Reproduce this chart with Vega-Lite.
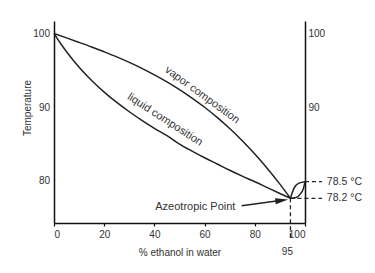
{
  "$schema": "https://vega.github.io/schema/vega-lite/v6.json",
  "autosize": "none",
  "width": 251,
  "height": 202,
  "padding": {"left": 54, "top": 21, "right": 70, "bottom": 50},
  "background": "white",
  "config": {"view": {"stroke": null}, "font": "Liberation Sans", "text": {"font": "Liberation Sans", "color": "#333"}},
  "datasets": {
    "curves": [
      {"series": "vapor", "x": 0, "y": 100},
      {"series": "vapor", "x": 5, "y": 99.41},
      {"series": "vapor", "x": 10, "y": 98.8},
      {"series": "vapor", "x": 15, "y": 98.18},
      {"series": "vapor", "x": 20, "y": 97.52},
      {"series": "vapor", "x": 25, "y": 96.83},
      {"series": "vapor", "x": 30, "y": 96.08},
      {"series": "vapor", "x": 35, "y": 95.28},
      {"series": "vapor", "x": 40, "y": 94.4},
      {"series": "vapor", "x": 45, "y": 93.45},
      {"series": "vapor", "x": 50, "y": 92.4},
      {"series": "vapor", "x": 55, "y": 91.25},
      {"series": "vapor", "x": 60, "y": 90.0},
      {"series": "vapor", "x": 65, "y": 88.62},
      {"series": "vapor", "x": 70, "y": 87.11},
      {"series": "vapor", "x": 75, "y": 85.46},
      {"series": "vapor", "x": 80, "y": 83.66},
      {"series": "vapor", "x": 85, "y": 81.7},
      {"series": "vapor", "x": 90, "y": 79.57},
      {"series": "vapor", "x": 94.2, "y": 77.65},
      {"series": "vapor loop", "x": 94.2, "y": 77.65},
      {"series": "vapor loop", "x": 95.0, "y": 78.5},
      {"series": "vapor loop", "x": 96.0, "y": 79.25},
      {"series": "vapor loop", "x": 97.6, "y": 79.7},
      {"series": "vapor loop", "x": 100, "y": 79.9},
      {"series": "liquid", "x": 0, "y": 100},
      {"series": "liquid", "x": 2.5, "y": 98.71},
      {"series": "liquid", "x": 5, "y": 97.53},
      {"series": "liquid", "x": 7.5, "y": 96.45},
      {"series": "liquid", "x": 10, "y": 95.44},
      {"series": "liquid", "x": 15, "y": 93.64},
      {"series": "liquid", "x": 20, "y": 92.06},
      {"series": "liquid", "x": 25, "y": 90.65},
      {"series": "liquid", "x": 30, "y": 89.39},
      {"series": "liquid", "x": 35, "y": 88.23},
      {"series": "liquid", "x": 40, "y": 87.15},
      {"series": "liquid", "x": 45, "y": 86.14},
      {"series": "liquid", "x": 50, "y": 85.0},
      {"series": "liquid", "x": 55, "y": 84.05},
      {"series": "liquid", "x": 60, "y": 83.15},
      {"series": "liquid", "x": 65, "y": 82.3},
      {"series": "liquid", "x": 70, "y": 81.45},
      {"series": "liquid", "x": 75, "y": 80.65},
      {"series": "liquid", "x": 80, "y": 79.9},
      {"series": "liquid", "x": 85, "y": 79.1},
      {"series": "liquid", "x": 90, "y": 78.3},
      {"series": "liquid", "x": 94.2, "y": 77.65},
      {"series": "liquid loop", "x": 94.2, "y": 77.65},
      {"series": "liquid loop", "x": 96.4, "y": 77.75},
      {"series": "liquid loop", "x": 98.4, "y": 78.35},
      {"series": "liquid loop", "x": 99.4, "y": 79.0},
      {"series": "liquid loop", "x": 100, "y": 79.9}
    ],
    "dashes": [
      {"x": 100, "y": 79.9, "x2": 106.8, "y2": 79.9},
      {"x": 94.2, "y": 77.65, "x2": 106.8, "y2": 77.65},
      {"x": 94.2, "y": 77.65, "x2": 94.2, "y2": 72.0}
    ],
    "levels": [
      {"text": "78.5 °C", "x": 108.7, "y": 79.9},
      {"text": "78.2 °C", "x": 108.7, "y": 77.65}
    ],
    "tick95": [{"text": "95", "x": 93.0, "y": 70.3}],
    "azeo": [{"text": "Azeotropic Point", "x": 56.3, "y": 76.43}],
    "vaporLabel": [{"text": "vapor composition", "x": 59.0, "y": 91.65}],
    "liquidLabel": [{"text": "liquid composition", "x": 44.2, "y": 88.3}],
    "arrow": [{"x": 74.8, "y": 76.64, "x2": 90.8, "y2": 77.37}],
    "arrowhead": [{"x": 90.76, "y": 77.37}]
  },
  "layer": [
    {
      "data": {"name": "curves"},
      "mark": {"type": "line", "interpolate": "monotone", "color": "#222", "strokeWidth": 1.5},
      "encoding": {
        "x": {"field": "x", "type": "quantitative", "scale": {"domain": [0, 100], "nice": false, "zero": false},
          "axis": {"values": [0, 20, 40, 60, 80, 100], "grid": false, "domainColor": "#111", "domainWidth": 1.5, "tickColor": "#111", "tickSize": 3, "tickWidth": 1.2, "labelFontSize": 10, "labelColor": "#333", "labelPadding": 3.5, "labelFont": "Liberation Sans", "title": "% ethanol in water", "titleFont": "Liberation Sans", "titleFontSize": 10, "titleFontWeight": "normal", "titleColor": "#333", "titlePadding": 8}},
        "y": {"field": "y", "type": "quantitative", "scale": {"domain": [74.3, 101.7], "nice": false, "zero": false},
          "axis": {"values": [80, 90, 100], "grid": false, "ticks": false, "domainColor": "#111", "domainWidth": 1.5, "labelPadding": 4.5, "labelFontSize": 10, "labelColor": "#333", "labelFont": "Liberation Sans", "title": "Temperature", "titleFont": "Liberation Sans", "titleFontSize": 10, "titleFontWeight": "normal", "titleColor": "#333", "titleX": -27, "titleY": 86.5, "titleAngle": -90, "titleBaseline": "middle", "titleAlign": "center"}},
        "detail": {"field": "series"}
      }
    },
    {
      "data": {"name": "dashes"},
      "mark": {"type": "rule", "color": "#222", "strokeWidth": 1.3, "strokeDash": [4, 3]},
      "encoding": {
        "x": {"field": "x", "type": "quantitative", "scale": {"domain": [0, 100], "nice": false, "zero": false}, "axis": null},
        "x2": {"field": "x2"},
        "y": {"field": "y", "type": "quantitative", "scale": {"domain": [74.3, 101.7], "nice": false, "zero": false},
          "axis": {"orient": "right", "values": [90, 100], "grid": false, "ticks": false, "domainColor": "#111", "domainWidth": 1.5, "labelPadding": 3, "labelFontSize": 10, "labelColor": "#333", "labelFont": "Liberation Sans", "title": null}},
        "y2": {"field": "y2"}
      }
    },
    {
      "data": {"name": "arrow"},
      "mark": {"type": "rule", "color": "#222", "strokeWidth": 1.5},
      "encoding": {
        "x": {"field": "x", "type": "quantitative", "scale": {"domain": [0, 100], "nice": false, "zero": false}, "axis": null},
        "x2": {"field": "x2"},
        "y": {"field": "y", "type": "quantitative", "scale": {"domain": [74.3, 101.7], "nice": false, "zero": false}, "axis": null},
        "y2": {"field": "y2"}
      }
    },
    {
      "data": {"name": "arrowhead"},
      "mark": {"type": "point", "shape": "M1,0L-1,-0.45L-1,0.45Z", "size": 169, "angle": -7.8, "filled": true, "opacity": 1, "color": "#222", "strokeWidth": 0},
      "encoding": {
        "x": {"field": "x", "type": "quantitative", "scale": {"domain": [0, 100], "nice": false, "zero": false}, "axis": null},
        "y": {"field": "y", "type": "quantitative", "scale": {"domain": [74.3, 101.7], "nice": false, "zero": false}, "axis": null}
      }
    },
    {
      "data": {"name": "levels"},
      "mark": {"type": "text", "align": "left", "baseline": "middle", "fontSize": 10.5, "color": "#333"},
      "encoding": {
        "x": {"field": "x", "type": "quantitative", "scale": {"domain": [0, 100], "nice": false, "zero": false}, "axis": null},
        "y": {"field": "y", "type": "quantitative", "scale": {"domain": [74.3, 101.7], "nice": false, "zero": false}, "axis": null},
        "text": {"field": "text"}
      }
    },
    {
      "data": {"name": "tick95"},
      "mark": {"type": "text", "align": "center", "baseline": "middle", "fontSize": 10, "color": "#333"},
      "encoding": {
        "x": {"field": "x", "type": "quantitative", "scale": {"domain": [0, 100], "nice": false, "zero": false}, "axis": null},
        "y": {"field": "y", "type": "quantitative", "scale": {"domain": [74.3, 101.7], "nice": false, "zero": false}, "axis": null},
        "text": {"field": "text"}
      }
    },
    {
      "data": {"name": "azeo"},
      "mark": {"type": "text", "align": "center", "baseline": "middle", "fontSize": 11, "color": "#333"},
      "encoding": {
        "x": {"field": "x", "type": "quantitative", "scale": {"domain": [0, 100], "nice": false, "zero": false}, "axis": null},
        "y": {"field": "y", "type": "quantitative", "scale": {"domain": [74.3, 101.7], "nice": false, "zero": false}, "axis": null},
        "text": {"field": "text"}
      }
    },
    {
      "data": {"name": "vaporLabel"},
      "mark": {"type": "text", "align": "center", "baseline": "middle", "fontSize": 11, "angle": 36, "color": "#333"},
      "encoding": {
        "x": {"field": "x", "type": "quantitative", "scale": {"domain": [0, 100], "nice": false, "zero": false}, "axis": null},
        "y": {"field": "y", "type": "quantitative", "scale": {"domain": [74.3, 101.7], "nice": false, "zero": false}, "axis": null},
        "text": {"field": "text"}
      }
    },
    {
      "data": {"name": "liquidLabel"},
      "mark": {"type": "text", "align": "center", "baseline": "middle", "fontSize": 11, "angle": 33, "color": "#333"},
      "encoding": {
        "x": {"field": "x", "type": "quantitative", "scale": {"domain": [0, 100], "nice": false, "zero": false}, "axis": null},
        "y": {"field": "y", "type": "quantitative", "scale": {"domain": [74.3, 101.7], "nice": false, "zero": false}, "axis": null},
        "text": {"field": "text"}
      }
    }
  ],
  "resolve": {"axis": {"x": "independent", "y": "independent"}}
}
